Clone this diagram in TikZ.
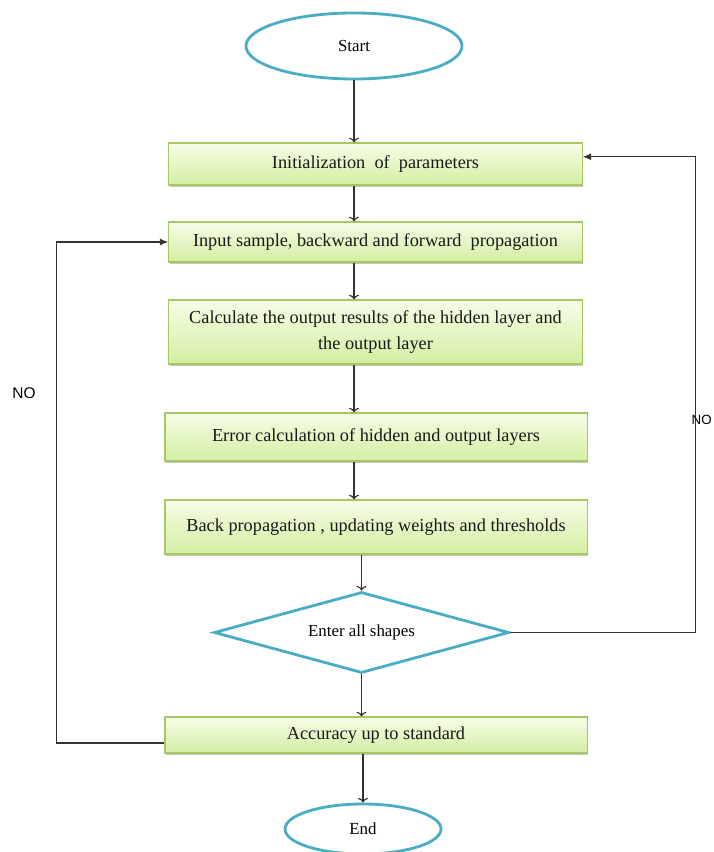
\documentclass[tikz,border=0pt]{standalone}
\usepackage{fontspec}
\setmainfont{Liberation Serif}
\newfontfamily\labelfont{Liberation Sans}
\usetikzlibrary{shapes.geometric,shadows,arrows.meta}

\definecolor{edgeblue}{RGB}{75,172,198}
\definecolor{boxedge}{RGB}{166,200,100}
\definecolor{boxtop}{RGB}{247,253,232}
\definecolor{boxbottom}{RGB}{211,238,162}

\begin{document}
\begin{tikzpicture}[x=0.025cm, y=-0.025cm, line width=0.8pt,
  box/.style={rectangle, draw=boxedge, line width=0.8pt, top color=boxtop, bottom color=boxbottom,
    drop shadow={shadow xshift=0.7pt, shadow yshift=-1.2pt, fill=black!45},
    minimum width=10.33cm, align=center, text=black!90, font=\fontsize{13}{18}\selectfont},
  widebox/.style={box, minimum width=10.55cm},
  term/.style={ellipse, draw=edgeblue, line width=2pt, inner sep=0pt, font=\fontsize{12}{14}\selectfont},
  test/.style={diamond, draw=edgeblue, line width=2pt, inner sep=0pt, aspect=3.6, font=\fontsize{12}{14}\selectfont},
  arr/.style={->, draw=black!80},
  back/.style={-{Latex[length=6pt,width=5pt]}, draw=black!80}]

\useasboundingbox (0,0) rectangle (713,852);

\node[term, minimum width=5.4cm, minimum height=1.65cm] (start) at (354,46) {Start};

\node[box, minimum height=1.05cm] (init) at (375.5,164) {Initialization\ \ of\ \ parameters};
\node[box, minimum height=1cm] (input) at (375.5,242) {Input sample, backward and forward\ \ propagation};
\node[box, minimum height=1.6cm] (calc) at (375.5,332) {Calculate the output results of the hidden layer and\\the output layer};
\node[widebox, minimum height=1.2cm] (error) at (376,437) {Error calculation of hidden and output layers};
\node[widebox, minimum height=1.35cm] (update) at (376,527) {Back propagation , updating weights and thresholds};

\node[test, minimum width=7.375cm, minimum height=2.025cm] (shapes) at (361.5,632.5) {Enter all shapes};

\node[widebox, minimum height=0.9cm] (acc) at (376,735) {Accuracy up to standard};

\node[term, minimum width=3.9cm, minimum height=1.25cm] (end) at (363,829) {End};

\draw[arr] (start.south) -- (start.south |- init.north);
\draw[arr] (init.south -| start) -- (input.north -| start);
\draw[arr] (input.south -| start) -- (calc.north -| start);
\draw[arr] (calc.south -| start) -- (error.north -| start);
\draw[arr] (error.south -| start) -- (update.north -| start);
\draw[arr] (update.south -| shapes) -- (shapes.north);
\draw[arr] (shapes.south) -- (acc.north -| shapes);
\draw[arr] (acc.south -| end) -- (end.north);

\draw[back] (shapes.east) -- ++(185,0) |- ([yshift=0.18cm]init.east);
\draw[back] ([yshift=-0.2cm]acc.west) -- ++(-108,0) |- (input.west);

\node[font=\labelfont\fontsize{11}{13}\selectfont] (noleft) at (24,393) {NO};
\node[anchor=east, inner sep=0.5pt, font=\labelfont\fontsize{9.5}{11}\selectfont] (noright) at (713,420) {NO};

\end{tikzpicture}
\end{document}
